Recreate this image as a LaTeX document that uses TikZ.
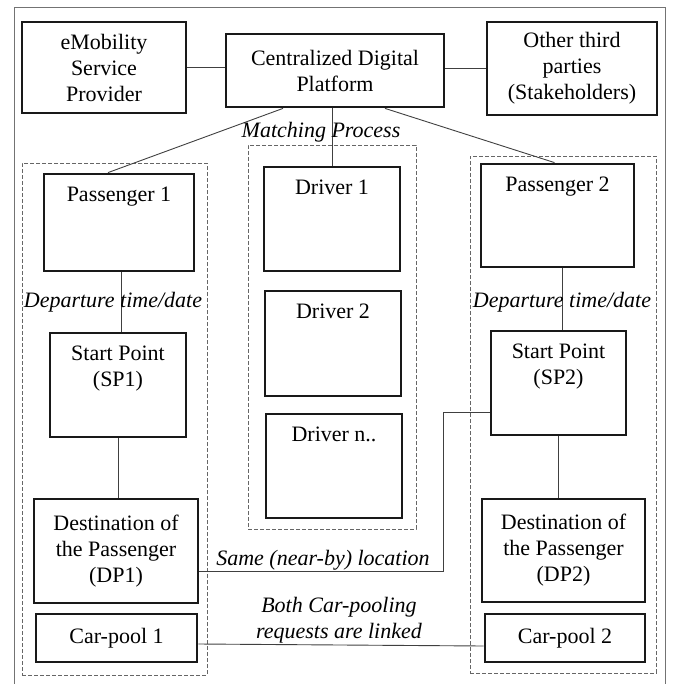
\documentclass[tikz,border=0pt]{standalone}
\usepackage{fontspec}
\setmainfont{Liberation Serif}
\usetikzlibrary{calc,positioning,fit}
\begin{document}
\fontsize{22}{26}\selectfont
\begin{tikzpicture}[x=1pt,y=-1pt,
  box/.style={draw=black!90,line width=2.8pt,inner sep=0pt,align=center},
  toptext/.style={label={[anchor=north,inner sep=0pt,yshift=-14pt,align=center]north:#1}},
  group/.style={draw=black!60,dash pattern=on 4pt off 2pt,line width=0.8pt,inner sep=0pt},
  link/.style={draw=black!75,line width=0.9pt},
  lab/.style={font=\itshape,inner sep=0pt}]
  \useasboundingbox (0,0) rectangle (673,684);
  \draw[black!55,line width=0.8pt] (14,7) rectangle (665,700);

  \node[group,minimum width=185pt,minimum height=512pt] (grpa) at (114.5,419) {};
  \node[group,minimum width=168pt,minimum height=384pt] (grpm) at (332,337) {};
  \node[group,minimum width=186pt,minimum height=517pt] (grpb) at (563,414.5) {};

  \node[box,minimum width=164pt,minimum height=91pt] (emsp) at (104,67.5) {eMobility\\Service\\Provider};
  \node[box,minimum width=218pt,minimum height=73pt] (cdp) at (335,70.5) {Centralized Digital\\Platform};
  \node[box,minimum width=170pt,minimum height=93pt] (otp) at (572,68.5) {Other third\\parties\\(Stakeholders)};

  \node[box,toptext={Passenger 1},minimum width=150pt,minimum height=97pt] (pass1) at (119,222.5) {};
  \node[box,toptext={Start Point\\(SP1)},minimum width=136pt,minimum height=104pt] (sp1) at (118,385) {};
  \node[box,minimum width=164pt,minimum height=104pt] (dp1) at (116,551) {Destination of\\the Passenger\\(DP1)};
  \node[box,minimum width=161pt,minimum height=48pt] (cp1) at (116.5,638) {Car-pool 1};

  \node[box,toptext={Driver 1},minimum width=136pt,minimum height=104pt] (drv1) at (332,219) {};
  \node[box,toptext={Driver 2},minimum width=136pt,minimum height=105pt] (drv2) at (333,343.5) {};
  \node[box,toptext={Driver n..},minimum width=136pt,minimum height=104pt] (drvn) at (334,466) {};

  \node[box,toptext={Passenger 2},minimum width=153pt,minimum height=103pt] (pass2) at (557.5,215.5) {};
  \node[box,toptext={Start Point\\(SP2)},minimum width=135pt,minimum height=104pt] (sp2) at (558.5,383) {};
  \node[box,minimum width=163pt,minimum height=103pt] (dp2) at (563.5,550.5) {Destination of\\the Passenger\\(DP2)};
  \node[box,minimum width=160pt,minimum height=48pt] (cp2) at (565,638) {Car-pool 2};

  \coordinate (pa) at ($(pass1.south)+(2,0)$);
  \coordinate (pb) at ($(pass2.south)+(5,0)$);

  \draw[link] (emsp.east) -- (emsp.east -| cdp.west);
  \draw[link] (otp.west) -- (otp.west -| cdp.east);
  \draw[link] ($(cdp.south)+(-52,0)$) -- ($(pass1.north)+(-11,0)$);
  \draw[link] ($(cdp.south)+(50,0)$) -- ($(pass2.north)+(-3,0)$);
  \draw[link] (drv1.north) -- (drv1.north |- cdp.south);
  \draw[link] (pa) -- (pa |- sp1.north);
  \draw[link] (sp1.south) -- (sp1.south |- dp1.north);
  \draw[link] (pb) -- (pb |- sp2.north);
  \draw[link] (sp2.south) -- (sp2.south |- dp2.north);
  \draw[link] ($(dp1.east)+(0,20)$) -- ++(244,0) |- ($(sp2.west)+(0,29)$);
  \draw[link] ($(cp1.east)+(0,6)$) -- ($(cp2.west)+(0,8)$);

  \node[lab,anchor=base] (mplab) at (321,138) {Matching Process};
  \node[lab,anchor=base] (deplab1) at (113,307) {Departure time/date};
  \node[lab,anchor=base] (deplab2) at (562,307) {Departure time/date};
  \node[lab,anchor=base] (samelab) at (323,565) {Same (near-by) location};
  \node[lab,anchor=north,align=center] (linklab) at (339,597) {Both Car-pooling\\requests are linked};
\end{tikzpicture}
\end{document}
